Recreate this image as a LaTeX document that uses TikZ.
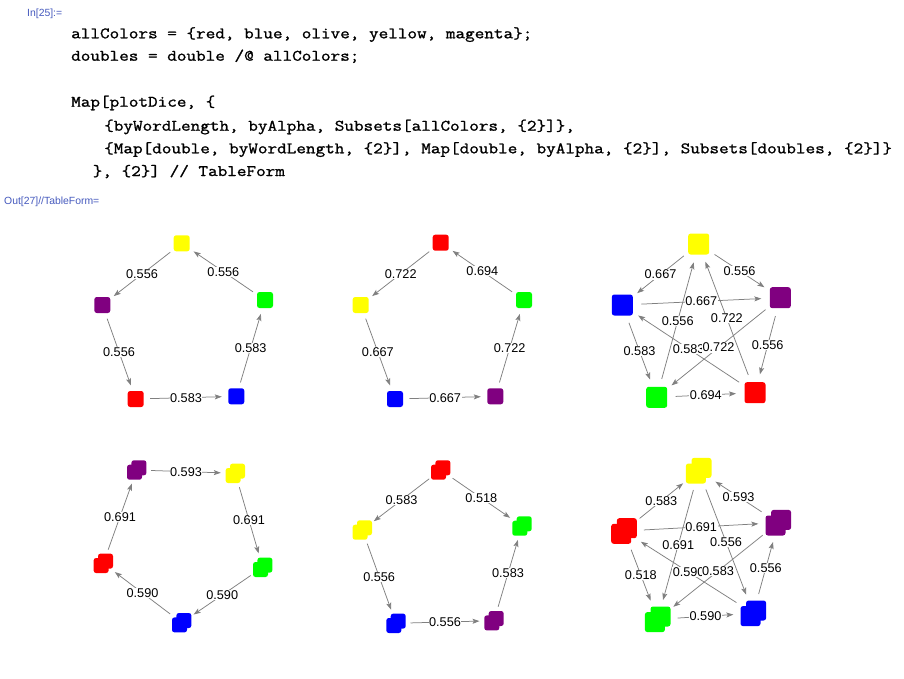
\documentclass[tikz,border=0pt]{standalone}
\usepackage{fontspec}
\setmainfont{Liberation Sans}
\newfontfamily\codefont[FakeStretch=1.166, FakeBold=1.2]{Latin Modern Mono}
\usetikzlibrary{arrows.meta}
\definecolor{mred}{RGB}{255,0,0}
\definecolor{mgreen}{RGB}{0,255,0}
\definecolor{mblue}{RGB}{0,0,255}
\definecolor{myellow}{RGB}{255,255,0}
\definecolor{mpurple}{RGB}{128,0,128}
\definecolor{edgegray}{RGB}{128,128,128}
\definecolor{cellblue}{RGB}{70,90,190}
\tikzset{
  sq/.style n args={3}{circle, inner sep=0pt, outer sep=0pt, minimum size=#3,
    path picture={\fill[#1, rounded corners=2.5pt]
      ([shift={(-#2/2,-#2/2)}]path picture bounding box.center) rectangle ++(#2,#2);}},
  dsq/.style n args={4}{circle, inner sep=0pt, outer sep=0pt, minimum size=#4,
    path picture={\fill[#1, rounded corners=2.5pt]
      ([shift={(-#2/2+#3,-#2/2+#3)}]path picture bounding box.center) rectangle ++(#2,#2);
      \fill[#1, rounded corners=2.5pt]
      ([shift={(-#2/2-#3,-#2/2-#3)}]path picture bounding box.center) rectangle ++(#2,#2);}},
  sa/.style={sq={#1}{16pt}{29pt}},
  sc/.style={sq={#1}{21pt}{38pt}},
  da/.style={dsq={#1}{15pt}{2.2pt}{29pt}},
  dc/.style={dsq={#1}{20pt}{2.8pt}{40pt}},
  edge/.style={draw=edgegray, line width=0.75pt, -{Stealth[length=7pt,width=5pt,inset=1.5pt]}},
  lbl/.style={fill=white, inner sep=0.6pt, text=black, font=\fontsize{12.7}{14}\selectfont},
  code/.style={anchor=base west, inner sep=0pt, text=black, font=\codefont\fontsize{16}{18}\selectfont},
  cell/.style={anchor=base west, inner sep=0pt, text=cellblue, font=\fontsize{10.4}{12}\selectfont}
}
\begin{document}
\begin{tikzpicture}[x=1pt,y=-1pt]
\fill[white] (0,0) rectangle (904,678);
\useasboundingbox (0,0) rectangle (904,678);
% cell labels and code
\node[cell] (inl) at (27,16) {In[25]:=};
\node[code] (c1) at (71,38.3) {allColors = \{red, blue, olive, yellow, magenta\};};
\node[code] (c2) at (71,60.7) {doubles = double /@ allColors;};
\node[code] (c3) at (71,106.7) {Map[plotDice, \{};
\node[code] (c4) at (104,130.7) {\{byWordLength, byAlpha, Subsets[allColors, \{2\}]\},};
\node[code] (c5) at (104,153.3) {\{Map[double, byWordLength, \{2\}], Map[double, byAlpha, \{2\}], Subsets[doubles, \{2\}]\}};
\node[code] (c6) at (92.6,176) {\}, \{2\}] // TableForm};
\node[cell] (outl) at (4,204) {Out[27]//TableForm=};
% graph 1
\node[sa=myellow] (Y1) at (181.7,243.3) {};
\node[sa=mgreen]  (G1) at (265,300) {};
\node[sa=mpurple] (P1) at (102.3,305) {};
\node[sa=mred]    (R1) at (135.7,399) {};
\node[sa=mblue]   (B1) at (236.3,396.3) {};
% graph 2
\node[sa=mred]    (R2) at (440.7,242.7) {};
\node[sa=myellow] (Y2) at (360.7,305) {};
\node[sa=mgreen]  (G2) at (524,300) {};
\node[sa=mblue]   (B2) at (395,399) {};
\node[sa=mpurple] (P2) at (495.3,396.3) {};
% graph 3
\node[sc=myellow] (Y3) at (698.7,244) {};
\node[sc=mpurple] (P3) at (780.3,297.7) {};
\node[sc=mblue]   (B3) at (622.3,305) {};
\node[sc=mgreen]  (G3) at (656.7,397.3) {};
\node[sc=mred]    (R3) at (755,392.7) {};
% graph 4
\node[da=mpurple] (P4) at (136.7,470) {};
\node[da=myellow] (Y4) at (235.3,473.3) {};
\node[da=mred]    (R4) at (103.3,563.3) {};
\node[da=mgreen]  (G4) at (262.7,567.3) {};
\node[da=mblue]   (B4) at (181.7,622.7) {};
% graph 5
\node[da=mred]    (R5) at (440.7,470) {};
\node[da=myellow] (Y5) at (362.3,530) {};
\node[da=mgreen]  (G5) at (522,526) {};
\node[da=mblue]   (B5) at (396,623.3) {};
\node[da=mpurple] (P5) at (494,620.7) {};
% graph 6
\node[dc=myellow] (Y6) at (698.7,470.7) {};
\node[dc=mpurple] (P6) at (778.3,522.7) {};
\node[dc=mred]    (R6) at (624,531) {};
\node[dc=mgreen]  (G6) at (657.7,619.3) {};
\node[dc=mblue]   (B6) at (753.3,613.3) {};
\def\edgelist{Y1/P1/0.556, G1/Y1/0.556, P1/R1/0.556, R1/B1/0.583, B1/G1/0.583,
  R2/Y2/0.722, G2/R2/0.694, Y2/B2/0.667, B2/P2/0.667, P2/G2/0.722,
  Y3/B3/0.667, Y3/P3/0.556, B3/P3/0.667, G3/Y3/0.556, R3/Y3/0.722,
  R3/B3/0.583, P3/G3/0.722, P3/R3/0.556, B3/G3/0.583, G3/R3/0.694,
  P4/Y4/0.593, Y4/G4/0.691, G4/B4/0.590, B4/R4/0.590, R4/P4/0.691,
  R5/Y5/0.583, R5/G5/0.518, Y5/B5/0.556, B5/P5/0.556, P5/G5/0.583,
  R6/Y6/0.583, P6/Y6/0.593, R6/P6/0.691, Y6/G6/0.691, Y6/B6/0.556,
  R6/G6/0.518, B6/R6/0.590, P6/G6/0.583, B6/P6/0.556, G6/B6/0.590}
\foreach \a/\b/\t in \edgelist { \draw[edge] (\a) -- (\b); }
\foreach \a/\b/\t in \edgelist { \path (\a) -- (\b) node[lbl, midway] {\t}; }
\end{tikzpicture}
\end{document}
